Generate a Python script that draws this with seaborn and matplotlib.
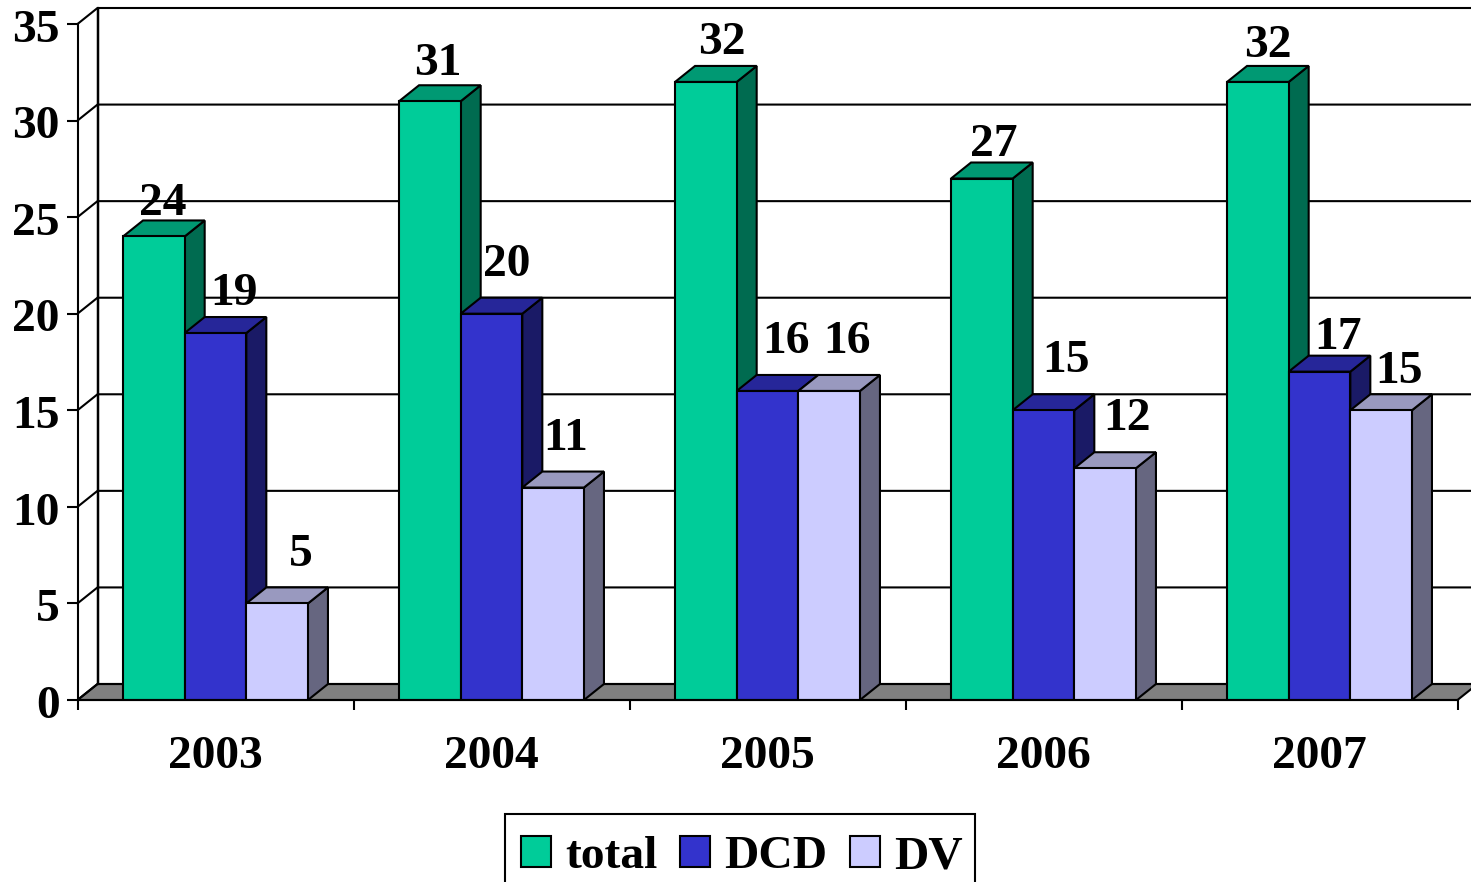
import pandas as pd
import seaborn as sns
import matplotlib.pyplot as plt
from matplotlib.patches import Rectangle
from matplotlib.transforms import ScaledTranslation

years = ['2003', '2004', '2005', '2006', '2007']
series_names = ['total', 'DCD', 'DV']
total = [24, 31, 32, 27, 32]
dcd = [19, 20, 16, 15, 17]
dv = [5, 11, 16, 12, 15]
y_ticks = [0, 5, 10, 15, 20, 25, 30, 35]

# front, side and top colour of each series
front_colors = ['#00CC99', '#3333CC', '#CCCCFF']
side_colors = ['#006B50', '#1A1A66', '#666680']
top_colors = ['#009973', '#262699', '#9999BF']

# where each value label sits relative to the middle/top of its bar, in pixels
label_dx = [[9, 8, 16, 12, 10], [18, 15, 18, 23, 18], [24, 13, 18, 22, 18]]
label_dy = [[21, 26, 28, 23, 25], [28, 38, 38, 38, 23], [37, 38, 38, 38, 27]]

sns.set_theme(style='white')
plt.rcParams['font.family'] = ['Liberation Serif']
plt.rcParams['font.weight'] = 'bold'
FS = 34.2
LW = 1.5

df = pd.DataFrame({
    'year': years * 3,
    'series': [s for s in series_names for _ in years],
    'value': total + dcd + dv,
})

fig = plt.figure(figsize=(14.71, 8.82), dpi=100)
ax = fig.add_axes([77.5 / 1471, 1 - 700 / 882, 1380 / 1471, 676 / 882])
ax.patch.set_alpha(0)

sns.barplot(data=df, x='year', y='value', hue='series', order=years,
            hue_order=series_names, palette=front_colors, saturation=1,
            width=0.67, edgecolor='black', linewidth=LW, ax=ax)

ax.set_xlim(-0.5, 4.5)
ax.set_ylim(0, 35)
ax.set_xlabel('')
ax.set_ylabel('')

# depth of the fake 3D box, 20 px across and 16 px up
dx = 20 / 276
dy = 16 * 35 / 676

# back wall and floor
ax.fill([-0.5, -0.5 + dx, 4.5 + dx, 4.5], [0, dy, dy, 0], color='#808080',
        ec='black', lw=LW, clip_on=False, zorder=1)
for v in y_ticks:
    ax.plot([-0.5, -0.5 + dx, 4.5 + dx], [v, v + dy, v + dy], color='black',
            lw=LW, clip_on=False, zorder=1.5)
ax.plot([-0.5 + dx, -0.5 + dx], [dy, 35 + dy], color='black', lw=LW * 1.2,
        clip_on=False, zorder=1.5)

# side and top faces, each series above the one before it
for i, bars in enumerate(ax.containers):
    for j, bar in enumerate(bars.patches):
        x0 = bar.get_x()
        x1 = x0 + bar.get_width()
        h = bar.get_height()
        bar.set_zorder(4 + 2 * i)
        ax.fill([x1, x1 + dx, x1 + dx, x1], [0, dy, h + dy, h], fc=side_colors[i],
                ec='black', lw=LW, clip_on=False, zorder=3 + 2 * i)
        ax.fill([x0, x0 + dx, x1 + dx, x1], [h, h + dy, h + dy, h], fc=top_colors[i],
                ec='black', lw=LW, clip_on=False, zorder=3 + 2 * i)
        ax.annotate(f'{h:.0f}', (x0 + bar.get_width() / 2, h),
                    xytext=(label_dx[i][j] * 0.72, label_dy[i][j] * 0.72),
                    textcoords='offset points', ha='center', va='baseline',
                    fontsize=FS, fontweight='bold', color='black', zorder=20,
                    annotation_clip=False)

# axes
sns.despine(ax=ax, top=True, right=True)
for side in ['left', 'bottom']:
    ax.spines[side].set_color('black')
    ax.spines[side].set_linewidth(LW)
    ax.spines[side].set_zorder(15)
ax.set_yticks(y_ticks)
ax.set_xticks([x - 0.5 for x in range(6)], minor=True)
ax.tick_params(axis='y', which='major', left=True, length=8, width=LW, pad=5,
               labelsize=FS, color='black', labelcolor='black')
ax.tick_params(axis='x', which='major', bottom=False, pad=20, labelsize=FS,
               labelcolor='black')
ax.tick_params(axis='x', which='minor', bottom=True, length=7, width=LW, color='black')

# y labels sit a touch below their ticks
shift = ScaledTranslation(0, -1.2 / 72, fig.dpi_scale_trans)
for lab in ax.get_yticklabels():
    lab.set_transform(lab.get_transform() + shift)

# legend box runs off the bottom of the picture
handles, labels = ax.get_legend_handles_labels()
ax.get_legend().remove()
leg = fig.legend(handles, labels, ncol=3, loc='upper left',
                 bbox_to_anchor=(521 / 1471, 1 - 836 / 882),
                 bbox_transform=fig.transFigure, fontsize=FS, frameon=False,
                 labelcolor='black', handlelength=0.64, handleheight=0.64,
                 handletextpad=0.29, columnspacing=0.47, borderpad=0,
                 borderaxespad=0)
fig.add_artist(Rectangle((505 / 1471, -10 / 882), 470 / 1471, 78 / 882,
                         transform=fig.transFigure, fc='none', ec='black', lw=LW))

fig.savefig('out.png', dpi=100)
